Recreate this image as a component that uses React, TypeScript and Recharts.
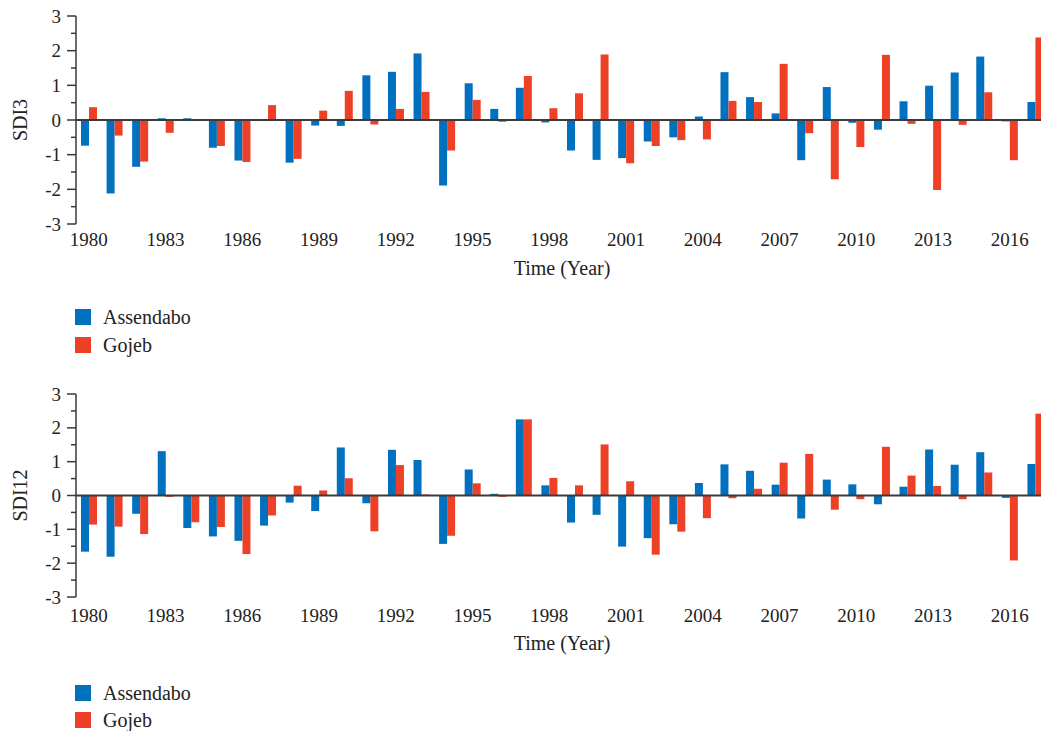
import React from "react";
import { BarChart, Bar, XAxis, YAxis, ReferenceLine } from "recharts";

const years = [
  1980, 1981, 1982, 1983, 1984, 1985, 1986, 1987, 1988, 1989,
  1990, 1991, 1992, 1993, 1994, 1995, 1996, 1997, 1998, 1999,
  2000, 2001, 2002, 2003, 2004, 2005, 2006, 2007, 2008, 2009,
  2010, 2011, 2012, 2013, 2014, 2015, 2016, 2017,
];

// SDI3
const sdi3Assendabo = [
  -0.74, -2.12, -1.35, 0.05, 0.05, -0.8, -1.17, -0.03, -1.23, -0.16,
  -0.17, 1.29, 1.39, 1.92, -1.89, 1.06, 0.32, 0.93, -0.07, -0.88,
  -1.15, -1.1, -0.62, -0.5, 0.1, 1.38, 0.66, 0.19, -1.16, 0.95,
  -0.08, -0.28, 0.54, 0.99, 1.37, 1.83, -0.04, 0.52,
];
const sdi3Gojeb = [
  0.37, -0.45, -1.2, -0.37, -0.03, -0.75, -1.21, 0.43, -1.12, 0.27,
  0.84, -0.13, 0.32, 0.81, -0.88, 0.58, -0.05, 1.27, 0.34, 0.77,
  1.89, -1.25, -0.75, -0.58, -0.56, 0.55, 0.52, 1.62, -0.38, -1.71,
  -0.78, 1.88, -0.11, -2.02, -0.14, 0.8, -1.16, 2.38,
];

// SDI12
const sdi12Assendabo = [
  -1.66, -1.81, -0.54, 1.31, -0.96, -1.21, -1.34, -0.89, -0.21, -0.46,
  1.42, -0.23, 1.35, 1.05, -1.43, 0.77, 0.05, 2.25, 0.3, -0.8,
  -0.57, -1.51, -1.26, -0.85, 0.37, 0.92, 0.73, 0.32, -0.68, 0.47,
  0.33, -0.26, 0.26, 1.36, 0.91, 1.28, -0.07, 0.93,
];
const sdi12Gojeb = [
  -0.86, -0.92, -1.14, -0.04, -0.79, -0.93, -1.73, -0.59, 0.29, 0.15,
  0.51, -1.06, 0.9, 0.03, -1.19, 0.36, -0.04, 2.25, 0.52, 0.3,
  1.51, 0.42, -1.75, -1.07, -0.67, -0.08, 0.2, 0.97, 1.23, -0.42,
  -0.11, 1.44, 0.59, 0.28, -0.11, 0.68, -1.92, 2.42,
];

const yTicks = [-3, -2.5, -2, -1.5, -1, -0.5, 0, 0.5, 1, 1.5, 2, 2.5, 3];

const BLUE = "#0070bf";
const RED = "#ee4027";
const AXIS = "#3a3a3a";
const FONT = "'Liberation Serif', 'DejaVu Serif', serif";

function YTick(props: any) {
  const { x, y, payload } = props;
  const v = payload.value as number;
  const major = Number.isInteger(v);
  return (
    <g>
      <line x1={x - (major ? 9 : 5)} x2={x} y1={y} y2={y} stroke={AXIS} strokeWidth={1.5} />
      {major && (
        <text x={x - 15} y={y} textAnchor="end" dominantBaseline="central" fill="#222" fontSize={19} fontFamily={FONT}>
          {String(v)}
        </text>
      )}
    </g>
  );
}

function Panel({ title, blue, red, plotHeight, tickGap, titleGap }: {
  title: string; blue: number[]; red: number[]; plotHeight: number; tickGap: number; titleGap: number;
}) {
  const data = years.map((yr, i) => ({ year: yr, Assendabo: blue[i], Gojeb: red[i] }));
  return (
    <BarChart
      width={1060}
      height={16 + plotHeight + titleGap + 10}
      data={data}
      margin={{ top: 16, right: 12, left: 0, bottom: 10 }}
      barGap={0}
      barSize={8}
    >
      <XAxis
        dataKey="year"
        interval={2}
        axisLine={false}
        tickLine={false}
        tickSize={0}
        tickMargin={tickGap}
        height={titleGap}
        tick={{ fill: "#222", fontSize: 19, fontFamily: FONT }}
        label={{ value: "Time (Year)", position: "insideBottom", offset: 0, fill: "#222", fontSize: 20, fontFamily: FONT }}
      />
      <YAxis
        width={76}
        domain={[-3, 3]}
        ticks={yTicks}
        interval={0}
        tickSize={0}
        tickMargin={0}
        tickLine={false}
        axisLine={{ stroke: AXIS, strokeWidth: 1.5 }}
        tick={<YTick />}
        label={(p: any) => {
          const vb = p.viewBox;
          const cx = vb.x + 19.5;
          const cy = vb.y + vb.height / 2;
          return (
            <text x={cx} y={cy} transform={`rotate(-90, ${cx}, ${cy})`} textAnchor="middle" dominantBaseline="central" fill="#222" fontSize={20} fontFamily={FONT}>
              {title}
            </text>
          );
        }}
      />
      <Bar dataKey="Assendabo" fill={BLUE} isAnimationActive={false} />
      <Bar dataKey="Gojeb" fill={RED} isAnimationActive={false} />
      <ReferenceLine y={0} stroke={AXIS} strokeWidth={2} ifOverflow="extendDomain" />
    </BarChart>
  );
}

function SeriesLegend({ top, gap }: { top: number; gap: number }) {
  const items = [
    { name: "Assendabo", color: BLUE },
    { name: "Gojeb", color: RED },
  ];
  return (
    <div style={{ position: "absolute", left: 75, top }}>
      {items.map((it, i) => (
        <div key={it.name} style={{ position: "absolute", top: i * gap, left: 0, display: "flex", alignItems: "center", height: 16, whiteSpace: "nowrap" }}>
          <span style={{ width: 16, height: 16, background: it.color, display: "inline-block" }} />
          <span style={{ marginLeft: 12, fontSize: 20, fontFamily: FONT, color: "#222" }}>{it.name}</span>
        </div>
      ))}
    </div>
  );
}

export default function App() {
  return (
    <div style={{ position: "relative", width: 1041, height: 731, overflow: "hidden", background: "#fff" }}>
      <style>{"body{margin:0}"}</style>
      <div style={{ position: "absolute", left: 0, top: 0 }}>
        <Panel title="SDI3" blue={sdi3Assendabo} red={sdi3Gojeb} plotHeight={208} tickGap={9} titleGap={51} />
      </div>
      <SeriesLegend top={309} gap={28} />
      <div style={{ position: "absolute", left: 0, top: 378 }}>
        <Panel title="SDI12" blue={sdi12Assendabo} red={sdi12Gojeb} plotHeight={203} tickGap={12} titleGap={53} />
      </div>
      <SeriesLegend top={685} gap={27} />
    </div>
  );
}
